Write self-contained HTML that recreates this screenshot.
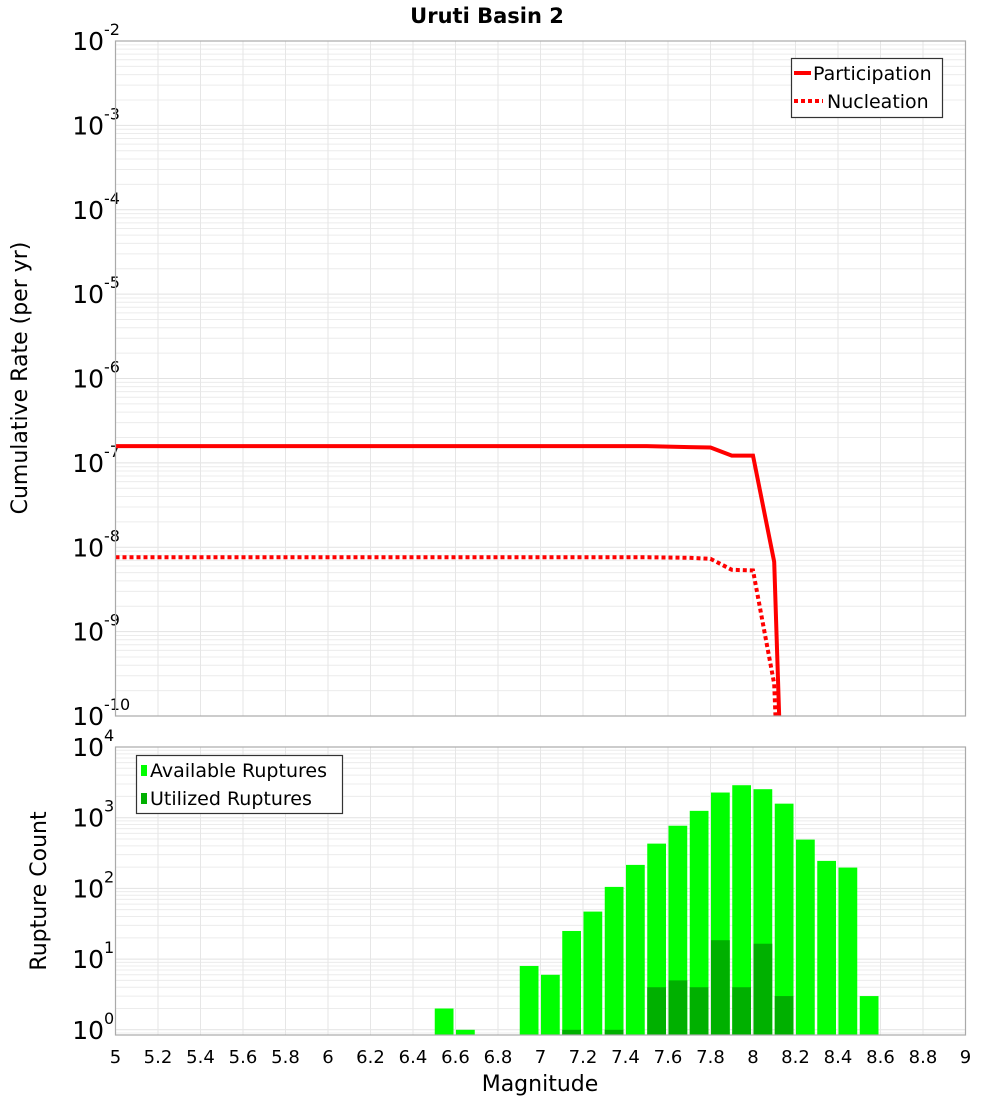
<!DOCTYPE html>
<html><head><meta charset="utf-8"><style>
body{margin:0;background:#fff;}
svg{display:block;font-family:"DejaVu Sans","Liberation Sans",sans-serif;}
</style></head><body>
<svg id="chart" width="1000" height="1100" viewBox="0 0 1000 1100" xmlns="http://www.w3.org/2000/svg">
<text x="487" y="23" text-anchor="middle" font-size="21" font-weight="bold">Uruti Basin 2</text>
<g id="topPanel"></g>
<g id="botPanel"></g>
<text transform="translate(27,378) rotate(-90)" text-anchor="middle" font-size="22">Cumulative Rate (per yr)</text>
<text transform="translate(46,891) rotate(-90)" text-anchor="middle" font-size="22">Rupture Count</text>
<text x="540" y="1091" text-anchor="middle" font-size="22">Magnitude</text>
</svg>
<script>
// ---- data ----
const rateMags = [5.0,5.1,5.2,5.3,5.4,5.5,5.6,5.7,5.8,5.9,6.0,6.1,6.2,6.3,6.4,6.5,6.6,6.7,6.8,6.9,7.0,7.1,7.2,7.3,7.4,7.5,7.6,7.7,7.8,7.9,8.0,8.1,8.2];
const participation = [1.58e-7,1.58e-7,1.58e-7,1.58e-7,1.58e-7,1.58e-7,1.58e-7,1.58e-7,1.58e-7,1.58e-7,1.58e-7,1.58e-7,1.58e-7,1.58e-7,1.58e-7,1.58e-7,1.58e-7,1.58e-7,1.58e-7,1.58e-7,1.58e-7,1.58e-7,1.58e-7,1.58e-7,1.58e-7,1.58e-7,1.56e-7,1.54e-7,1.52e-7,1.22e-7,1.22e-7,6.7e-9,1e-16];
const nucleation = [7.6e-9,7.6e-9,7.6e-9,7.6e-9,7.6e-9,7.6e-9,7.6e-9,7.6e-9,7.6e-9,7.6e-9,7.6e-9,7.6e-9,7.6e-9,7.6e-9,7.6e-9,7.6e-9,7.6e-9,7.6e-9,7.6e-9,7.6e-9,7.6e-9,7.6e-9,7.6e-9,7.6e-9,7.6e-9,7.6e-9,7.55e-9,7.5e-9,7.3e-9,5.4e-9,5.3e-9,2.4e-10,1e-16];
const binStarts = [6.5,6.6,6.9,7.0,7.1,7.2,7.3,7.4,7.5,7.6,7.7,7.8,7.9,8.0,8.1,8.2,8.3,8.4,8.5];
const available = [2,1,8,6,25,47,105,215,430,770,1250,2270,2880,2530,1580,490,245,197,3];
const utilized = [0,0,0,0,1,0,1,0,4,5,4,18.5,4,16.5,3,0,0,0,0];
const xTicks = [5,5.2,5.4,5.6,5.8,6,6.2,6.4,6.6,6.8,7,7.2,7.4,7.6,7.8,8,8.2,8.4,8.6,8.8,9];
const topDecades = [-10,-9,-8,-7,-6,-5,-4,-3,-2];
const botDecades = [0,1,2,3,4];

// ---- geometry ----
const NS='http://www.w3.org/2000/svg';
const X0=115.5,X1=965.5;
const xs=m=>X0+(m-5)/4*(X1-X0);
const T0=41,T1=716; const ty=v=>T0+(-2-Math.log10(v))/8*(T1-T0);
const B0=747,B1=1035; const bDec=70.7; const by=v=>B0+(4-Math.log10(v))*bDec;
function mk(p,tag,a,txt){const e=document.createElementNS(NS,tag);for(const k in a)e.setAttribute(k,a[k]);if(txt!==undefined)e.textContent=txt;p.appendChild(e);return e;}
const topG=document.getElementById('topPanel'), botG=document.getElementById('botPanel');

function grid(g,y0,y1,ymap,decLo,decHi,name){
  const gg=mk(g,'g',{});
  
  
  for(let d=decLo;d<decHi;d++){for(let k=1;k<10;k++){const y=ymap(k*Math.pow(10,d));if(y<y0-0.5||y>y1+0.5)continue;
    mk(gg,'line',{x1:X0,x2:X1,y1:y,y2:y,stroke:k==1?'#e2e2e2':'#ececec','stroke-width':1});}}
  xTicks.forEach(t=>{mk(gg,'line',{x1:xs(t),x2:xs(t),y1:y0,y2:y1,stroke:'#e6e6e6','stroke-width':1});});
}
function yLabels(g,decs,ymap,name){
  decs.forEach(d=>{const y=ymap(Math.pow(10,d));
    const t=mk(g,'text',{x:104,y:y+9,'text-anchor':'end','font-size':25},'10');
    
    
    mk(g,'text',{x:104,y:y-6,'font-size':16},String(d));
  });
}
// top panel
mk(topG,'rect',{x:X0,y:T0,width:X1-X0,height:T1-T0,fill:'#fff'});
grid(topG,T0,T1,ty,-10,-2,'rate');
yLabels(topG,topDecades,ty,'rate-y');
const cp=mk(topG,'clipPath',{id:'ctop'});mk(cp,'rect',{x:X0,y:T0,width:X1-X0,height:T1-T0});
function line(arr,dash,name){const pts=rateMags.map((m,i)=>xs(m).toFixed(1)+','+ty(arr[i]).toFixed(1)).join(' ');
  const p=mk(topG,'polyline',{points:pts,fill:'none',stroke:'#ff0000','stroke-width':4,'clip-path':'url(#ctop)','stroke-dasharray':dash||'none','stroke-linejoin':'miter'});
  
  }
line(participation,null,'participation-line');
line(nucleation,'4 3','nucleation-line');
mk(topG,'rect',{x:X0,y:T0,width:X1-X0,height:T1-T0,fill:'none',stroke:'#aaa','stroke-width':1.2});
// top legend
const lg=mk(topG,'g',{});


mk(lg,'rect',{x:791.5,y:58.5,width:151,height:59,fill:'#fff',stroke:'#333','stroke-width':1.2});
mk(lg,'line',{x1:794,x2:811,y1:73,y2:73,stroke:'#f00','stroke-width':4});
mk(lg,'text',{x:813,y:80,'font-size':19},'Participation');
mk(lg,'line',{x1:794,x2:823,y1:101,y2:101,stroke:'#f00','stroke-width':4,'stroke-dasharray':'4 3'});
mk(lg,'text',{x:827,y:108,'font-size':19},'Nucleation');

// bottom panel
mk(botG,'rect',{x:X0,y:B0,width:X1-X0,height:B1-B0,fill:'#fff'});
grid(botG,B0,B1,by,-1,4,'count');
yLabels(botG,botDecades,by,'count-y');
binStarts.forEach((m,i)=>{
  const x=xs(m)+0.5,w=xs(m+0.1)-xs(m)-2.5;
  const r=mk(botG,'rect',{x:x,y:by(available[i]),width:w,height:B1-by(available[i]),fill:'#00ff00'});
  
  
  if(utilized[i]>0){const u=mk(botG,'rect',{x:x,y:by(utilized[i]),width:w,height:B1-by(utilized[i]),fill:'#00b000'});
    
    }
});
mk(botG,'rect',{x:X0,y:B0,width:X1-X0,height:B1-B0,fill:'none',stroke:'#aaa','stroke-width':1.2});
xTicks.forEach(t=>{const e=mk(botG,'text',{x:xs(t),y:1063,'text-anchor':'middle','font-size':18},String(t));
  
  });
const bl=mk(botG,'g',{});


mk(bl,'rect',{x:136.5,y:755.5,width:206,height:58,fill:'#fff',stroke:'#333','stroke-width':1.2});
mk(bl,'rect',{x:141,y:765,width:6,height:11,fill:'#00ff00'});
mk(bl,'text',{x:150,y:777,'font-size':19},'Available Ruptures');
mk(bl,'rect',{x:141,y:793,width:6,height:11,fill:'#00b000'});
mk(bl,'text',{x:150,y:805,'font-size':19},'Utilized Ruptures');
</script>
</body></html>
